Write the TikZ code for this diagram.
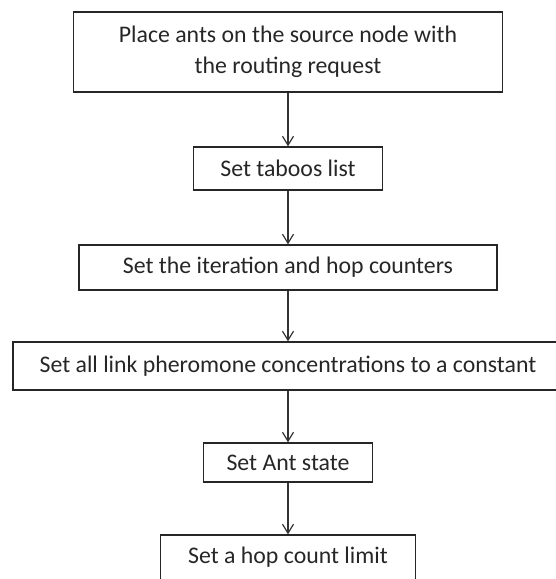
\documentclass[tikz,border=0pt]{standalone}
\usepackage{fontspec}
\setmainfont{Carlito}
\usepackage{tikz}
\usetikzlibrary{positioning, arrows.meta}
\tikzset{%
	box/.style = {name = #1, draw = black!85, line width = 1.3pt, align = center, inner sep = 0pt, text = black!85, font = \fontsize{23.8}{31}\selectfont},
	>={Straight Barb[length = 9pt, width = 11pt, line width = 1.2pt]},
	every edge/.append style={line width = 1.2pt, draw = black!80}
}
\begin{document}
\begin{tikzpicture}[x = 1pt, y = -1pt]
			\useasboundingbox (0,0) rectangle (555,579);
			\node [box = {place}, minimum width = 429pt, minimum height = 80pt] at (288,52) {Place ants on the source node with\\the routing request};
			\node [box = {taboo}, minimum width = 189pt, minimum height = 43pt] at (288,168.5) {Set taboos list};
			\node [box = {count}, minimum width = 418pt, minimum height = 45pt] at (288,267.5) {Set the iteration and hop counters};
			\node [box = {phero}, minimum width = 550pt, minimum height = 48pt] at (288,366) {Set all link pheromone concentrations to a constant};
			\node [box = {state}, minimum width = 169pt, minimum height = 39pt] at (288,462.5) {Set Ant state};
			\node [box = {limit}, minimum width = 255pt, minimum height = 45pt] at (288,557.5) {Set a hop count limit};
			\path [->] (place) edge (taboo);
			\path [->] (taboo) edge (count);
			\path [->] (count) edge (phero);
			\path [->] (phero) edge (state);
			\path [->] (state) edge (limit);
			\end{tikzpicture}
\end{document}
